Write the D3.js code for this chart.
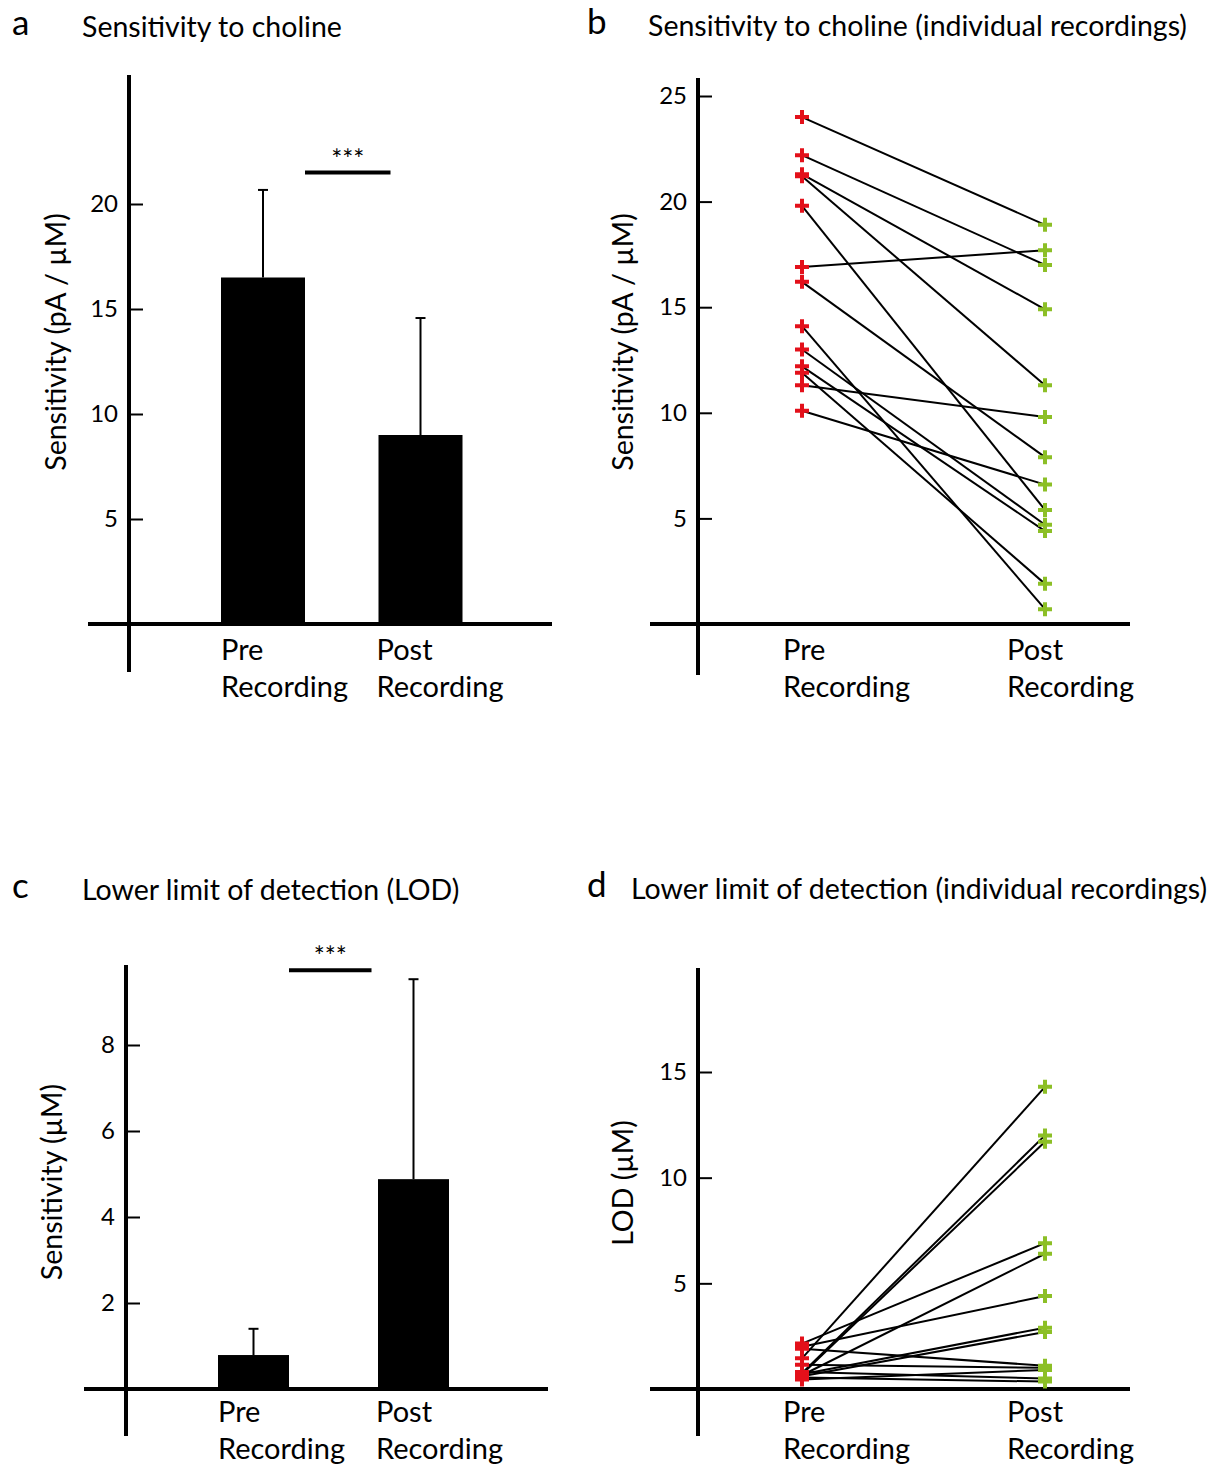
<!DOCTYPE html>
<html>
<head>
<meta charset="utf-8">
<script src="https://cdn.jsdelivr.net/npm/d3@7"></script>
<style>
  body { margin: 0; background: #fff; }
  svg { display: block; font-family: Lato, "Noto Sans", sans-serif; }
</style>
</head>
<body>
<svg id="chart" width="1224" height="1464"></svg>
<script>
// ---- data ----
const categories = ["Pre", "Post"];

const sensMean = [16.5, 9.0];
const sensErr = [4.17, 5.57];

const lodMean = [0.79, 4.88];
const lodErr = [0.61, 4.65];

// individual recordings, pre[i] is paired with post[i]
const sensPre  = [24.0, 22.2, 21.3, 21.2, 19.8, 16.9, 16.2, 14.1, 13.0, 12.2, 11.9, 11.3, 10.1];
const sensPost = [18.9, 17.0, 14.9, 11.3, 5.4, 17.7, 7.9, 0.7, 4.7, 4.4, 1.9, 9.8, 6.6];

const lodPre  = [1.45, 0.75, 0.7, 2.15, 0.65, 2.0, 0.7, 0.6, 1.9, 1.15, 0.8, 0.55, 0.45];
const lodPost = [14.3, 12.0, 11.7, 6.9, 6.4, 4.4, 2.9, 2.7, 1.1, 1.0, 0.5, 0.35, 0.9];

const sensTicks = [5, 10, 15, 20];
const sensTicksB = [5, 10, 15, 20, 25];
const lodTicks = [2, 4, 6, 8];
const lodTicksD = [5, 10, 15];

const red = "#e3101a";
const green = "#8cbf26";

const svg = d3.select("#chart");

function axes(g, x0, x1, yAxisX, yTop, yBottom, baseY, y, ticks) {
    g.append("g")
        .attr("transform", `translate(${yAxisX},0)`)
        .call(d3.axisLeft(y).tickValues(ticks).tickSizeInner(-14).tickSizeOuter(0).tickPadding(11))
        .call(a => a.select(".domain").remove())
        .call(a => a.selectAll(".tick line").attr("stroke", "#000").attr("stroke-width", 2))
        .call(a => a.selectAll(".tick text").attr("font-size", 24).attr("fill", "#000").attr("font-family", "Lato, sans-serif"));

    g.append("line")
        .attr("x1", yAxisX).attr("x2", yAxisX)
        .attr("y1", yTop).attr("y2", yBottom)
        .attr("stroke", "#000").attr("stroke-width", 4);

    g.append("line")
        .attr("x1", x0).attr("x2", x1)
        .attr("y1", baseY).attr("y2", baseY)
        .attr("stroke", "#000").attr("stroke-width", 4);
}

function titles(g, letter, letterX, title, titleX, baseY) {
    g.append("text")
        .attr("x", letterX).attr("y", baseY - 2)
        .attr("font-size", 35)
        .text(letter);
    g.append("text")
        .attr("x", titleX).attr("y", baseY)
        .attr("font-size", 28.5)
        .text(title);
}

function yLabel(g, text, x, y) {
    g.append("text")
        .attr("transform", `translate(${x},${y}) rotate(-90)`)
        .attr("text-anchor", "middle")
        .attr("font-size", 28.5)
        .text(text);
}

function catLabels(g, x, offsets, baseY) {
    categories.forEach((c, i) => {
        g.append("text")
            .attr("x", x(c) + offsets[i]).attr("y", baseY)
            .attr("font-size", 29)
            .text(c);
        g.append("text")
            .attr("x", x(c) + offsets[i]).attr("y", baseY + 37)
            .attr("font-size", 29)
            .text("Recording");
    });
}

function barPanel(o) {
    const g = svg.append("g");

    const x = d3.scalePoint().domain(categories).range(o.xRange);
    const y = d3.scaleLinear().domain(o.yDomain).range(o.yRange);

    axes(g, o.xAxis[0], o.xAxis[1], o.yAxisX, o.yAxisTop, o.yAxisBottom, y(0), y, o.ticks);

    // error bars (upper only)
    categories.forEach((c, i) => {
        const top = y(o.mean[i] + o.err[i]);
        g.append("line")
            .attr("x1", x(c)).attr("x2", x(c))
            .attr("y1", y(o.mean[i])).attr("y2", top)
            .attr("stroke", "#000").attr("stroke-width", 2);
        g.append("line")
            .attr("x1", x(c) - 5).attr("x2", x(c) + 5)
            .attr("y1", top).attr("y2", top)
            .attr("stroke", "#000").attr("stroke-width", 2);
    });

    g.selectAll("rect.bar")
        .data(categories)
        .join("rect")
        .attr("class", "bar")
        .attr("x", c => x(c) - o.barWidth / 2)
        .attr("width", o.barWidth)
        .attr("y", (c, i) => y(o.mean[i]))
        .attr("height", (c, i) => y(0) - y(o.mean[i]))
        .attr("fill", "#000");

    // significance
    const sx0 = x("Pre") + o.barWidth / 2;
    const sx1 = x("Post") - o.sigInset;
    g.append("line")
        .attr("x1", sx0).attr("x2", sx1)
        .attr("y1", y(o.sigLevel)).attr("y2", y(o.sigLevel))
        .attr("stroke", "#000").attr("stroke-width", 4);
    g.append("text")
        .attr("x", (sx0 + sx1) / 2).attr("y", y(o.sigLevel) - 4)
        .attr("text-anchor", "middle")
        .attr("font-size", 26)
        .text("***");

    catLabels(g, x, [-o.barWidth / 2, -o.barWidth / 2 - 2], o.labelY);
    yLabel(g, o.yTitle, o.yTitleX, o.yTitleY);
    titles(g, o.letter, 12, o.title, 82, o.titleY);
}

function plus(sz) {
    return `M${-sz},0H${sz}M0,${-sz}V${sz}`;
}

function pairPanel(o) {
    const g = svg.append("g");

    const x = d3.scalePoint().domain(categories).range([802, 1045]);
    const y = d3.scaleLinear().domain(o.yDomain).range(o.yRange);

    axes(g, 650, 1130, 698, o.yAxisTop, o.yAxisBottom, y(0), y, o.ticks);

    g.selectAll("line.pair")
        .data(o.pre)
        .join("line")
        .attr("class", "pair")
        .attr("x1", x("Pre")).attr("x2", x("Post"))
        .attr("y1", d => y(d))
        .attr("y2", (d, i) => y(o.post[i]))
        .attr("stroke", "#000").attr("stroke-width", 2);

    g.selectAll("path.pre")
        .data(o.pre)
        .join("path")
        .attr("class", "pre")
        .attr("transform", d => `translate(${x("Pre")},${y(d)})`)
        .attr("d", plus(7))
        .attr("stroke", red).attr("stroke-width", 4);

    g.selectAll("path.post")
        .data(o.post)
        .join("path")
        .attr("class", "post")
        .attr("transform", d => `translate(${x("Post")},${y(d)})`)
        .attr("d", plus(7))
        .attr("stroke", green).attr("stroke-width", 4);

    catLabels(g, x, [-19, -38], o.labelY);
    yLabel(g, o.yTitle, 633, o.yTitleY);
    titles(g, o.letter, 587, o.title, o.titleX, o.titleY);
}

barPanel({
    letter: "a", title: "Sensitivity to choline", titleY: 37,
    xRange: [263, 420.5], barWidth: 84, sigInset: 30,
    yDomain: [0, 20], yRange: [624, 204],
    xAxis: [88, 552], yAxisX: 129, yAxisTop: 75, yAxisBottom: 672,
    ticks: sensTicks, mean: sensMean, err: sensErr, sigLevel: 21.5,
    labelY: 660, yTitle: "Sensitivity (pA / µM)", yTitleX: 66, yTitleY: 342
});

pairPanel({
    letter: "b", title: "Sensitivity to choline (individual recordings)", titleX: 648, titleY: 36,
    yDomain: [0, 25], yRange: [624, 96],
    yAxisTop: 78, yAxisBottom: 675,
    ticks: sensTicksB, pre: sensPre, post: sensPost,
    labelY: 660, yTitle: "Sensitivity (pA / µM)", yTitleY: 342
});

barPanel({
    letter: "c", title: "Lower limit of detection (LOD)", titleY: 900,
    xRange: [253.5, 413.5], barWidth: 71, sigInset: 42,
    yDomain: [0, 8], yRange: [1389, 1045],
    xAxis: [84, 548], yAxisX: 126, yAxisTop: 965, yAxisBottom: 1436,
    ticks: lodTicks, mean: lodMean, err: lodErr, sigLevel: 9.74,
    labelY: 1422, yTitle: "Sensitivity (µM)", yTitleX: 62, yTitleY: 1182
});

pairPanel({
    letter: "d", title: "Lower limit of detection (individual recordings)", titleX: 631, titleY: 899,
    yDomain: [0, 15], yRange: [1389, 1072],
    yAxisTop: 968, yAxisBottom: 1436,
    ticks: lodTicksD, pre: lodPre, post: lodPost,
    labelY: 1422, yTitle: "LOD (µM)", yTitleY: 1183
});
</script>
</body>
</html>
